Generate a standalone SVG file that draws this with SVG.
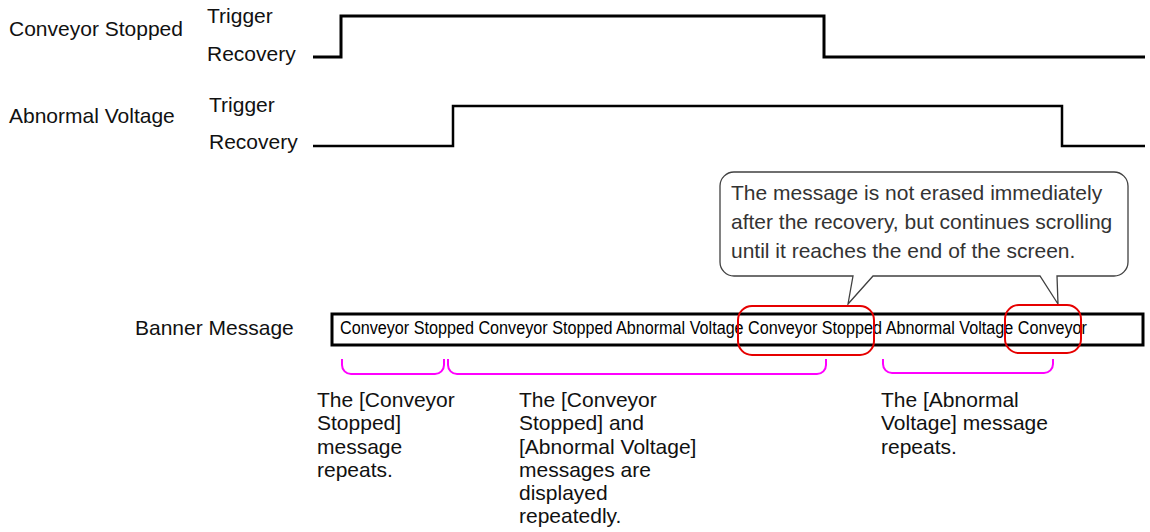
<svg xmlns="http://www.w3.org/2000/svg" width="1150" height="532" viewBox="0 0 1150 532">
  <style>
    text { font-family: "Liberation Sans", Arial, sans-serif; font-size: 21px; fill: #111; }
    .callout-text { fill: #333; }
    .banner-text { font-size: 18px; fill: #000; }
    .wave { fill: none; stroke: #000; stroke-linejoin: miter; }
    .brace { fill: none; stroke: #ff00ff; stroke-width: 2; }
    .highlight { fill: none; stroke: #e60000; stroke-width: 2; }
  </style>

  <rect width="1150" height="532" fill="#fff"/>

  <!-- signal: Conveyor Stopped -->
  <g id="signal-conveyor">
    <text x="9" y="36">Conveyor Stopped</text>
    <text x="207" y="23">Trigger</text>
    <text x="207" y="61">Recovery</text>
    <path class="wave" stroke-width="3" d="M313,57 H341 V16 H824 V57 H1145"/>
  </g>

  <!-- signal: Abnormal Voltage -->
  <g id="signal-voltage">
    <text x="9" y="123">Abnormal Voltage</text>
    <text x="209" y="112">Trigger</text>
    <text x="209" y="149">Recovery</text>
    <path class="wave" stroke-width="2.5" d="M313,146 H453 V106 H1062 V146 H1145"/>
  </g>

  <!-- speech bubble with two pointers -->
  <g id="callout">
    <path d="M734,172 H1114 A14,14 0 0 1 1128,186 V262 A14,14 0 0 1 1114,276 H1057 L1058,304 L1040,276 H873 L848,304 L853,276 H734 A14,14 0 0 1 720,262 V186 A14,14 0 0 1 734,172 Z" fill="#fff" stroke="#404040" stroke-width="1.3"/>
    <text class="callout-text" x="731" y="200">The message is not erased immediately</text>
    <text class="callout-text" x="731" y="229">after the recovery, but continues scrolling</text>
    <text class="callout-text" x="731" y="258">until it reaches the end of the screen.</text>
  </g>

  <!-- banner display -->
  <g id="banner">
    <text x="135" y="335">Banner Message</text>
    <rect x="332" y="314" width="811" height="31" fill="#fff" stroke="#000" stroke-width="3"/>
    <text class="banner-text" x="340" y="334" textLength="747" lengthAdjust="spacingAndGlyphs">Conveyor Stopped Conveyor Stopped Abnormal Voltage Conveyor Stopped Abnormal Voltage Conveyor</text>
  </g>

  <!-- highlighted words still scrolling after recovery -->
  <g id="highlights">
    <rect class="highlight" x="738" y="306" width="136" height="49" rx="14"/>
    <rect class="highlight" x="1005" y="305" width="76" height="48" rx="14"/>
  </g>

  <!-- range brackets under the banner -->
  <g id="brackets">
    <path class="brace" d="M342,359 V365 A9,9 0 0 0 351,374 H435 A9,9 0 0 0 444,365 V359"/>
    <path class="brace" d="M448,359 V365 A9,9 0 0 0 457,374 H817 A9,9 0 0 0 826,365 V359"/>
    <path class="brace" d="M883,359 V364 A9,9 0 0 0 892,373 H1044 A9,9 0 0 0 1053,364 V359"/>
  </g>

  <!-- bracket notes -->
  <g id="note-conveyor">
    <text x="317" y="407">The [Conveyor</text>
    <text x="317" y="430">Stopped]</text>
    <text x="317" y="454">message</text>
    <text x="317" y="477">repeats.</text>
  </g>
  <g id="note-both">
    <text x="519" y="407">The [Conveyor</text>
    <text x="519" y="430">Stopped] and</text>
    <text x="519" y="454">[Abnormal Voltage]</text>
    <text x="519" y="477">messages are</text>
    <text x="519" y="500">displayed</text>
    <text x="519" y="523">repeatedly.</text>
  </g>
  <g id="note-voltage">
    <text x="881" y="407">The [Abnormal</text>
    <text x="881" y="430">Voltage] message</text>
    <text x="881" y="454">repeats.</text>
  </g>
</svg>
